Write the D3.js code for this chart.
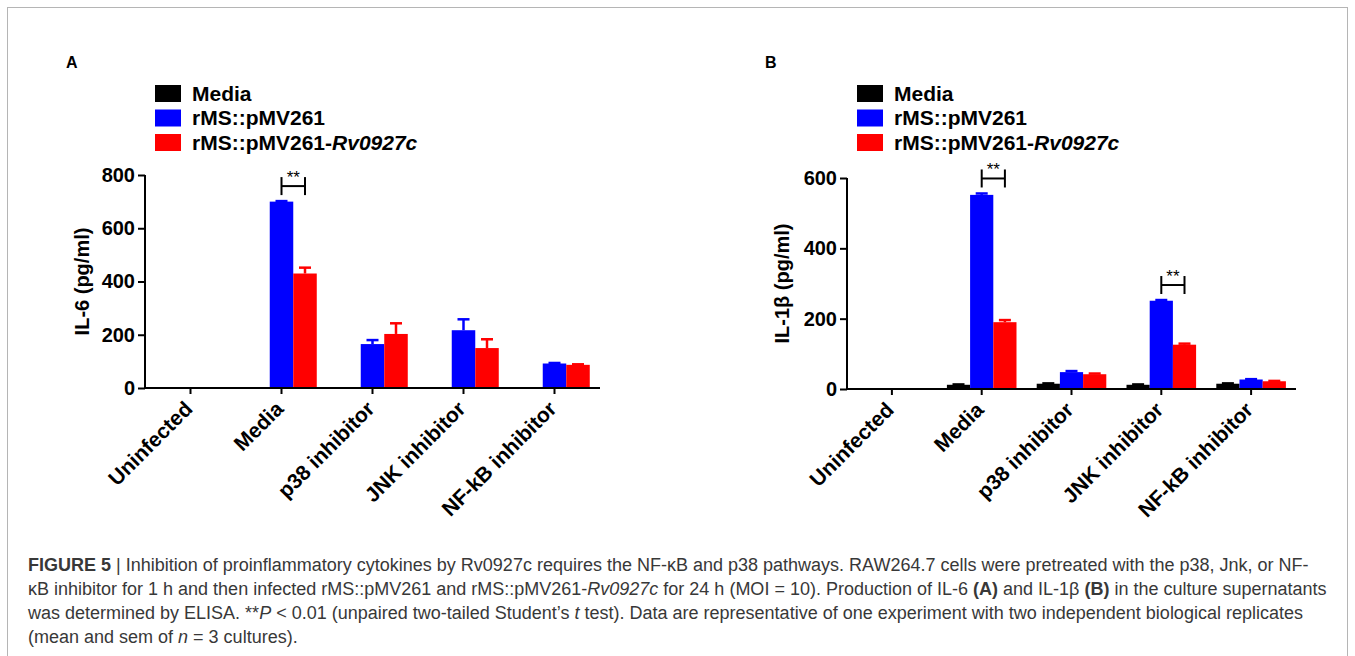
<!DOCTYPE html>
<html>
<head>
<meta charset="utf-8">
<script src="https://cdn.jsdelivr.net/npm/d3@7"></script>
<style>
  body { margin: 0; background: #fff; }
  svg { display: block; font-family: "Liberation Sans", Arial, sans-serif; }
</style>
</head>
<body>
<svg id="fig" width="1355" height="656"></svg>
<script>
// categories and groups shared by both panels
var categories = ["Uninfected", "Media", "p38 inhibitor", "JNK inhibitor", "NF-kB inhibitor"];
var groups = ["Media", "rMS::pMV261", "rMS::pMV261-Rv0927c"];
var groupColors = ["#000000", "#0000ff", "#ff0000"];

// panel A - IL-6 (pg/ml), mean and sem
var il6Media = [0, 0, 0, 0, 0];
var il6Vector = [0, 700, 165, 217, 92];
var il6Rv = [0, 430, 203, 150, 87];
var il6MediaSem = [0, 0, 0, 0, 0];
var il6VectorSem = [0, 2, 15, 41, 2];
var il6RvSem = [0, 22, 40, 33, 2];
var il6Ticks = [0, 200, 400, 600, 800];
var il6Sig = ["Media"];

// panel B - IL-1beta (pg/ml), mean and sem
var il1bMedia = [0, 12, 15, 12, 15];
var il1bVector = [0, 552, 48, 251, 27];
var il1bRv = [0, 190, 42, 126, 22];
var il1bMediaSem = [0, 1, 1, 1, 1];
var il1bVectorSem = [0, 4, 3, 2, 1];
var il1bRvSem = [0, 6, 2, 3, 1];
var il1bTicks = [0, 200, 400, 600];
var il1bSig = ["Media", "JNK inhibitor"];

var svg = d3.select("#fig");

// figure frame
svg.append("rect")
    .attr("x", 7.5).attr("y", 7.5)
    .attr("width", 1340).attr("height", 700)
    .attr("fill", "none")
    .attr("stroke", "#b5b5b5")
    .attr("stroke-width", 1);

function drawPanel(p) {
    var x = d3.scaleBand().domain(categories).range([p.left, p.right]).padding(0);
    var sub = d3.scaleBand().domain(groups)
        .range([0, x.bandwidth() * 0.775])
    var off = (x.bandwidth() - sub.range()[1]) / 2;
    var y = d3.scaleLinear().domain([0, p.max]).range([p.bottom, p.top]);

    var g = svg.append("g");

    // panel letter
    g.append("text")
        .attr("x", p.letterX).attr("y", 68)
        .attr("font-size", 16).attr("font-weight", "bold")
        .text(p.letter);

    // legend
    var leg = g.append("g").attr("transform", "translate(" + p.legendX + ",85)");
    groups.forEach(function(name, i) {
        leg.append("rect")
            .attr("x", 0).attr("y", i * 24.5)
            .attr("width", 26).attr("height", 17)
            .attr("fill", groupColors[i]);
        var t = leg.append("text")
            .attr("x", 37).attr("y", i * 24.5 + 15.5)
            .attr("font-size", 21).attr("font-weight", "bold");
        if (name.indexOf("-Rv") > 0) {
            t.append("tspan").text("rMS::pMV261-");
            t.append("tspan").attr("font-style", "italic").text("Rv0927c");
        } else {
            t.text(name);
        }
    });

    // bars
    var rows = categories.map(function(c, i) {
        return groups.map(function(gr, j) {
            return { cat: c, group: gr, color: groupColors[j],
                     value: p.values[j][i], sem: p.sems[j][i] };
        });
    });
    var flat = [].concat.apply([], rows);

    g.append("g").selectAll("rect")
        .data(flat.filter(function(d) { return d.value > 0; }))
        .enter().append("rect")
        .attr("x", function(d) { return x(d.cat) + off + sub(d.group); })
        .attr("y", function(d) { return y(d.value); })
        .attr("width", sub.bandwidth())
        .attr("height", function(d) { return y(0) - y(d.value); })
        .attr("fill", function(d) { return d.color; });

    // sem, upper whisker only
    var errs = g.append("g").selectAll("g")
        .data(flat.filter(function(d) { return d.value > 0 && d.sem > 0; }))
        .enter().append("g")
        .attr("stroke", function(d) { return d.color; })
        .attr("stroke-width", 2.5);
    errs.append("line")
        .attr("x1", function(d) { return x(d.cat) + off + sub(d.group) + sub.bandwidth() / 2; })
        .attr("x2", function(d) { return x(d.cat) + off + sub(d.group) + sub.bandwidth() / 2; })
        .attr("y1", function(d) { return y(d.value); })
        .attr("y2", function(d) { return y(d.value + d.sem); });
    errs.append("line")
        .attr("x1", function(d) { return x(d.cat) + off + sub(d.group) + sub.bandwidth() / 2 - 6; })
        .attr("x2", function(d) { return x(d.cat) + off + sub(d.group) + sub.bandwidth() / 2 + 6; })
        .attr("y1", function(d) { return y(d.value + d.sem); })
        .attr("y2", function(d) { return y(d.value + d.sem); });

    // significance brackets between the two infected groups
    p.sig.forEach(function(cat) {
        var i = categories.indexOf(cat);
        var x1 = x(cat) + off + sub(groups[1]) + sub.bandwidth() / 2;
        var x2 = x(cat) + off + sub(groups[2]) + sub.bandwidth() / 2;
        var hi = Math.max(p.values[1][i] + p.sems[1][i], p.values[2][i] + p.sems[2][i]);
        var yb = y(hi) - 6, yt = yb - 18, ym = (yb + yt) / 2;
        var b = g.append("g").attr("stroke", "#000").attr("stroke-width", 2).attr("fill", "none");
        b.append("line").attr("x1", x1).attr("x2", x1).attr("y1", yt).attr("y2", yb);
        b.append("line").attr("x1", x2).attr("x2", x2).attr("y1", yt).attr("y2", yb);
        b.append("line").attr("x1", x1).attr("x2", x2).attr("y1", ym).attr("y2", ym);
        g.append("text")
            .attr("x", (x1 + x2) / 2).attr("y", yt + 6)
            .attr("text-anchor", "middle")
            .attr("font-size", 17)
            .text("**");
    });

    // axes
    var yAxis = g.append("g")
        .attr("transform", "translate(" + p.left + ",0)")
        .call(d3.axisLeft(y).tickValues(p.ticks).tickSize(7).tickPadding(3).tickSizeOuter(0));
    var xAxis = g.append("g")
        .attr("transform", "translate(0," + p.bottom + ")")
        .call(d3.axisBottom(x).tickSize(6).tickSizeOuter(0));
    [yAxis, xAxis].forEach(function(a) {
        a.selectAll("path, line").attr("stroke", "#000").attr("stroke-width", 2);
        a.selectAll("text").attr("font-size", 20).attr("font-weight", "bold")
            .attr("fill", "#000").attr("font-family", "Liberation Sans, Arial, sans-serif");
    });
    yAxis.select(".domain").attr("d", "M0," + (p.bottom + 1) + "V" + p.top);
    xAxis.select(".domain").attr("d", "M" + (p.left - 1) + ",0H" + p.right);
    xAxis.selectAll("text")
        .attr("font-size", 21)
        .attr("text-anchor", "end")
        .attr("dy", "0.35em")
        .attr("transform", "translate(-2,17) rotate(-45)")
        .attr("y", 0).attr("x", 0);

    // y title
    g.append("text")
        .attr("transform", "translate(" + p.titleX + "," + ((p.top + p.bottom) / 2) + ") rotate(-90)")
        .attr("text-anchor", "middle")
        .attr("font-size", 20).attr("font-weight", "bold")
        .text(p.title);
}

drawPanel({
    letter: "A", letterX: 66, legendX: 155,
    left: 145, right: 600, top: 175, bottom: 388, max: 800,
    ticks: il6Ticks, titleX: 89, title: "IL-6 (pg/ml)",
    values: [il6Media, il6Vector, il6Rv],
    sems: [il6MediaSem, il6VectorSem, il6RvSem],
    sig: il6Sig
});

drawPanel({
    letter: "B", letterX: 765, legendX: 857,
    left: 847, right: 1296, top: 178, bottom: 389, max: 600,
    ticks: il1bTicks, titleX: 789, title: "IL-1\u03b2 (pg/ml)",
    values: [il1bMedia, il1bVector, il1bRv],
    sems: [il1bMediaSem, il1bVectorSem, il1bRvSem],
    sig: il1bSig
});

// caption
var caption = [
    [["FIGURE 5", "b"], [" | Inhibition of proinflammatory cytokines by Rv0927c requires the NF-\u03baB and p38 pathways. RAW264.7 cells were pretreated with the p38, Jnk, or NF-", ""]],
    [["\u03baB inhibitor for 1 h and then infected rMS::pMV261 and rMS::pMV261-", ""], ["Rv0927c", "i"], [" for 24 h (MOI = 10). Production of IL-6 ", ""], ["(A)", "b"], [" and IL-1\u03b2 ", ""], ["(B)", "b"], [" in the culture supernatants", ""]],
    [["was determined by ELISA. **", ""], ["P", "i"], [" < 0.01 (unpaired two-tailed Student\u2019s ", ""], ["t", "i"], [" test). Data are representative of one experiment with two independent biological replicates", ""]],
    [["(mean and sem of ", ""], ["n", "i"], [" = 3 cultures).", ""]]
];
caption.forEach(function(line, i) {
    var t = svg.append("text")
        .attr("x", 28).attr("y", 571 + i * 24)
        .attr("font-size", 18).attr("fill", "#383838");
    line.forEach(function(seg) {
        t.append("tspan")
            .attr("font-weight", seg[1] == "b" ? "bold" : null)
            .attr("font-style", seg[1] == "i" ? "italic" : null)
            .text(seg[0]);
    });
});
</script>
</body>
</html>
